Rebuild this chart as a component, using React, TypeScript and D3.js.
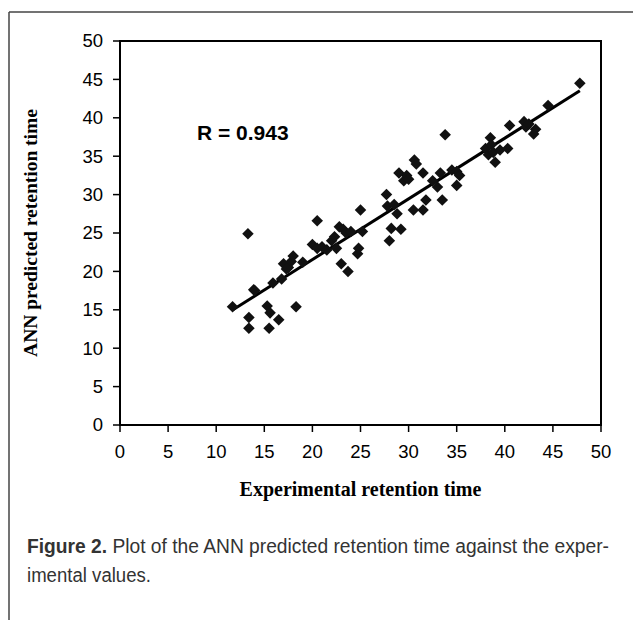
import React from "react";
import * as d3 from "d3";

const experimental: number[] = [
  11.7, 13.3, 13.4, 13.4, 13.9, 14.0, 15.3, 15.5, 15.6, 15.9, 16.5, 16.8, 17.0, 17.3, 17.5, 17.8, 18.0, 18.3, 19.0,
  20.0, 20.5, 20.5, 21.0, 21.5, 22.0, 22.3, 22.5, 22.8, 23.0, 23.2, 23.5, 23.7, 24.0, 24.7, 24.8, 25.0, 25.2,
  27.7, 27.8, 28.0, 28.2, 28.5, 28.8, 29.0, 29.2, 29.5, 29.8, 30.0, 30.5, 30.6, 30.8, 31.5, 31.5, 31.8, 32.5, 33.0,
  33.3, 33.5, 33.8, 34.5, 35.0, 35.0, 35.3,
  38.0, 38.3, 38.5, 38.6, 38.8, 39.0, 39.5, 40.3, 40.5, 42.0, 42.2, 42.5, 43.0, 43.2, 44.5, 47.8,
];
const predicted: number[] = [
  15.4, 24.9, 14.0, 12.6, 17.6, 17.5, 15.5, 12.6, 14.6, 18.5, 13.7, 19.0, 21.0, 20.3, 20.5, 21.3, 22.0, 15.4, 21.2,
  23.5, 26.6, 23.0, 23.2, 22.8, 24.0, 24.5, 23.0, 25.8, 21.0, 25.5, 25.0, 20.0, 25.2, 22.3, 23.0, 28.0, 25.2,
  30.0, 28.5, 24.0, 25.6, 28.7, 27.5, 32.8, 25.5, 31.8, 32.5, 32.0, 28.0, 34.5, 34.0, 32.8, 28.0, 29.3, 31.8, 31.0,
  32.8, 29.3, 37.8, 33.2, 33.0, 31.2, 32.5,
  36.0, 35.2, 37.4, 36.5, 35.5, 34.2, 35.8, 36.0, 39.0, 39.5, 38.8, 39.2, 37.9, 38.5, 41.6, 44.5,
];
const xTicks: number[] = [0, 5, 10, 15, 20, 25, 30, 35, 40, 45, 50];
const yTicks: number[] = [0, 5, 10, 15, 20, 25, 30, 35, 40, 45, 50];
const rLabel = "R = 0.943";
const xTitle = "Experimental retention time";
const yTitle = "ANN predicted retention time";
const captionBold = "Figure 2.";
const captionLine1 = " Plot of the ANN predicted retention time against the exper-";
const captionLine2 = "imental values.";

export default function App() {
  const W = 633, H = 620;
  const left = 120, right = 601, top = 41, bottom = 425;
  const x = d3.scaleLinear().domain([0, 50]).range([left, right]);
  const y = d3.scaleLinear().domain([0, 50]).range([bottom, top]);

  const n = experimental.length;
  const mx = d3.mean(experimental)!;
  const my = d3.mean(predicted)!;
  let sxy = 0, sxx = 0;
  for (let i = 0; i < n; i++) {
    sxy += (experimental[i] - mx) * (predicted[i] - my);
    sxx += (experimental[i] - mx) ** 2;
  }
  const slope = sxy / sxx;
  const intercept = my - slope * mx;
  const [x0, x1] = d3.extent(experimental) as [number, number];
  const line = d3.line<number>().x((d) => x(d)).y((d) => y(slope * d + intercept));
  const diamond = d3.symbol().type(d3.symbolDiamond2).size(85)()!;
  const sans = "Liberation Sans, Arial, sans-serif";
  const serif = "Liberation Serif, Times New Roman, serif";

  return (
    <svg width={W} height={H} style={{ position: "absolute", left: 0, top: 0, background: "#fff" }}>
      <rect x={0} y={0} width={W} height={H} fill="#fff" />
      <line x1={9} y1={12} x2={W} y2={12} stroke="#444" strokeWidth={1.5} />
      <line x1={9} y1={12} x2={9} y2={H} stroke="#444" strokeWidth={1.5} />

      <rect x={left} y={top} width={right - left} height={bottom - top} fill="none" stroke="#000" strokeWidth={2} />

      {yTicks.map((t) => (
        <g key={"y" + t}>
          <line x1={left - 7} x2={left} y1={y(t)} y2={y(t)} stroke="#000" strokeWidth={1.5} />
          <text x={left - 17} y={y(t)} dy="0.35em" textAnchor="end" fontFamily={sans} fontSize={18.5}>
            {t}
          </text>
        </g>
      ))}
      {xTicks.map((t) => (
        <g key={"x" + t}>
          <line x1={x(t)} x2={x(t)} y1={bottom} y2={bottom + 7} stroke="#000" strokeWidth={1.5} />
          <text x={x(t)} y={bottom + 27} dy="0.35em" textAnchor="middle" fontFamily={sans} fontSize={18.5}>
            {t}
          </text>
        </g>
      ))}

      <path d={line([x0, x1])!} stroke="#000" strokeWidth={3} fill="none" />

      {experimental.map((ex, i) => (
        <path key={i} d={diamond} transform={`translate(${x(ex)},${y(predicted[i])})`} fill="#111" />
      ))}

      <text x={197} y={133} dy="0.35em" fontFamily={sans} fontWeight="bold" fontSize={21}>
        {rLabel}
      </text>

      <text x={(left + right) / 2} y={489} dy="0.35em" textAnchor="middle" fontFamily={serif} fontWeight="bold" fontSize={20}>
        {xTitle}
      </text>
      <text transform={`translate(30,${(top + bottom) / 2}) rotate(-90)`} dy="0.35em" textAnchor="middle" fontFamily={serif} fontWeight="bold" fontSize={19.5}>
        {yTitle}
      </text>

      <text x={27} y={546} dy="0.35em" fontFamily={sans} fontSize={19.5} fill="#333" textLength={582} lengthAdjust="spacingAndGlyphs">
        <tspan fontWeight="bold">{captionBold}</tspan>
        <tspan>{captionLine1}</tspan>
      </text>
      <text x={27} y={575} dy="0.35em" fontFamily={sans} fontSize={19.5} fill="#333" textLength={124} lengthAdjust="spacingAndGlyphs">
        {captionLine2}
      </text>
    </svg>
  );
}
